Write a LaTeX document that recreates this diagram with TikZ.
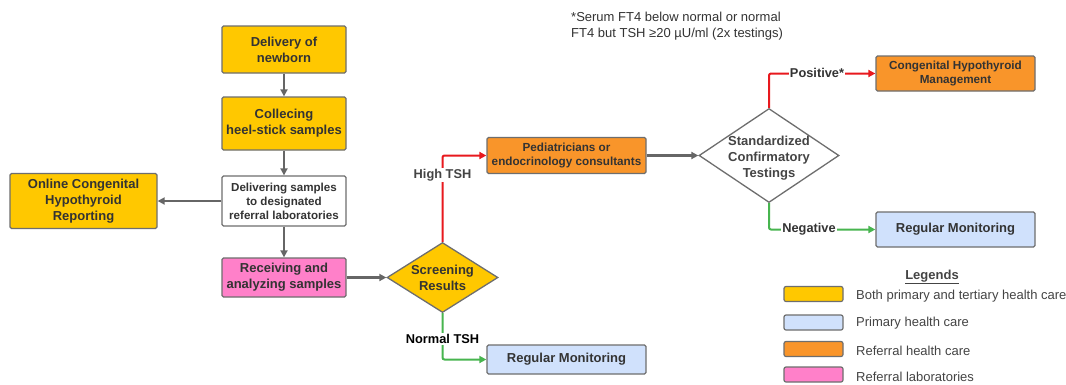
\documentclass[tikz,border=0pt]{standalone}
\usepackage{fontspec}
\setmainfont{Liberation Sans}
\usetikzlibrary{shapes.geometric,arrows.meta}
\definecolor{yel}{HTML}{FFC800}
\definecolor{org}{HTML}{F9952A}
\definecolor{pnk}{HTML}{FF80C9}
\definecolor{blu}{HTML}{D0E1FC}
\definecolor{bordc}{HTML}{6E6E6E}
\definecolor{txtc}{HTML}{333333}
\definecolor{lblc}{HTML}{444444}
\definecolor{redc}{HTML}{E8191E}
\definecolor{grnc}{HTML}{47B54F}
\definecolor{arrc}{HTML}{666666}
\tikzset{
  box/.style={draw=bordc, line width=1.3pt, rounded corners=1.5pt, align=center, inner sep=0pt,
    font=\bfseries\fontsize{13}{16}\selectfont, text=txtc},
  smallbox/.style={box, font=\bfseries\fontsize{11.7}{14.3}\selectfont},
  dmd/.style={diamond, draw=bordc, line width=1.3pt, inner sep=0pt},
  dtext/.style={align=center, inner sep=0pt, font=\bfseries\fontsize{13}{16}\selectfont, text=txtc},
  garrow/.style={draw=arrc, line width=2.2pt, -{Triangle[length=7pt,width=7pt]}},
  rarrow/.style={draw=redc, line width=2pt, rounded corners=2pt, -{Triangle[length=7pt,width=7pt]}},
  gnarrow/.style={draw=grnc, line width=2pt, rounded corners=2pt, -{Triangle[length=7pt,width=7pt]}},
  lbl/.style={fill=white, inner sep=1pt, font=\bfseries\fontsize{12.8}{15}\selectfont},
  swatch/.style={draw=bordc, line width=1.2pt, rounded corners=2pt, minimum width=59, minimum height=15, inner sep=0pt},
  legtext/.style={anchor=west, inner sep=0pt, text=lblc, font=\fontsize{13}{16}\selectfont}
}
\begin{document}
\begin{tikzpicture}[x=1pt,y=-1pt]
\useasboundingbox[fill=white] (0,0) rectangle (1066,384);
% boxes
\node[box, fill=yel, minimum width=124, minimum height=47] (deliv) at (284,49.5) {Delivery of\\newborn};
\node[box, fill=yel, minimum width=124, minimum height=53] (coll) at (284,123.5) {Collecing\\heel-stick samples};
\node[box, fill=white, minimum width=124, minimum height=50, font=\bfseries\fontsize{11.6}{14}\selectfont] (dsamp) at (284,201) {Delivering samples\\to designated\\referral laboratories};
\node[box, fill=yel, minimum width=147, minimum height=55] (online) at (83.5,201) {Online Congenital\\Hypothyroid\\Reporting};
\node[box, fill=pnk, minimum width=124, minimum height=39] (recv) at (284,277.5) {Receiving and\\analyzing samples};
\node[dmd, fill=yel, minimum width=111, minimum height=70] (screen) at (442.5,277.5) {};
\node[dtext] (screentext) at (screen.center) {Screening\\Results};
\node[smallbox, fill=org, minimum width=159, minimum height=36] (ped) at (566.5,155.5) {Pediatricians or\\endocrinology consultants};
\node[dmd, fill=white, minimum width=140, minimum height=94] (sct) at (769,155.5) {};
\node[dtext, text=lblc] (scttext) at (769,158) {Standardized\\Confirmatory\\Testings};
\node[smallbox, fill=org, minimum width=159, minimum height=35] (chm) at (955.5,73.5) {Congenital Hypothyroid\\Management};
\node[box, fill=blu, minimum width=159, minimum height=35] (rm2) at (955.5,229.5) {Regular Monitoring};
\node[box, fill=blu, minimum width=159, minimum height=29] (rm1) at (566.5,359.5) {Regular Monitoring};
% connectors
\draw[garrow] (deliv) -- (coll);
\draw[garrow] (coll) -- (dsamp);
\draw[garrow] (dsamp) -- (recv);
\draw[garrow] (dsamp.west) -- (online.east);
\draw[garrow] (recv.east) -- (screen.west);
\draw[garrow] (ped.east) -- (sct.west);
\draw[rarrow] (screen.north) |- (ped.west);
\draw[gnarrow] (screen.south) |- (rm1.west);
\draw[rarrow] (sct.north) |- (chm.west);
\draw[gnarrow] (sct.south) |- (rm2.west);
% labels
\node[lbl, text=lblc] (lhigh) at (442.5,175) {High TSH};
\node[lbl, text=black] (lnorm) at (442.5,339) {Normal TSH};
\node[lbl, text=txtc] (lpos) at (817,73) {Positive*};
\node[lbl, text=txtc] (lneg) at (809,229) {Negative};
% note
\node[anchor=west, align=left, inner sep=0pt, text=txtc, font=\fontsize{13}{16}\selectfont] (note) at (571,26) {*Serum FT4 below normal or normal\\FT4 but TSH ≥20 µU/ml (2x testings)};
% legend
\node[inner sep=0pt, text=lblc, font=\bfseries\fontsize{13}{16}\selectfont] (legtitle) at (932,277) {\underline{Legends}};
\node[swatch, fill=yel] (sw1) at (813.5,294) {};
\node[swatch, fill=blu] (sw2) at (813.5,322.5) {};
\node[swatch, fill=org] (sw3) at (813.5,349) {};
\node[swatch, fill=pnk] (sw4) at (813.5,374.5) {};
\node[legtext] (lt1) at (856,296) {Both primary and tertiary health care};
\node[legtext] (lt2) at (856,323) {Primary health care};
\node[legtext] (lt3) at (856,351) {Referral health care};
\node[legtext] (lt4) at (856,377) {Referral laboratories};
\end{tikzpicture}
\end{document}
